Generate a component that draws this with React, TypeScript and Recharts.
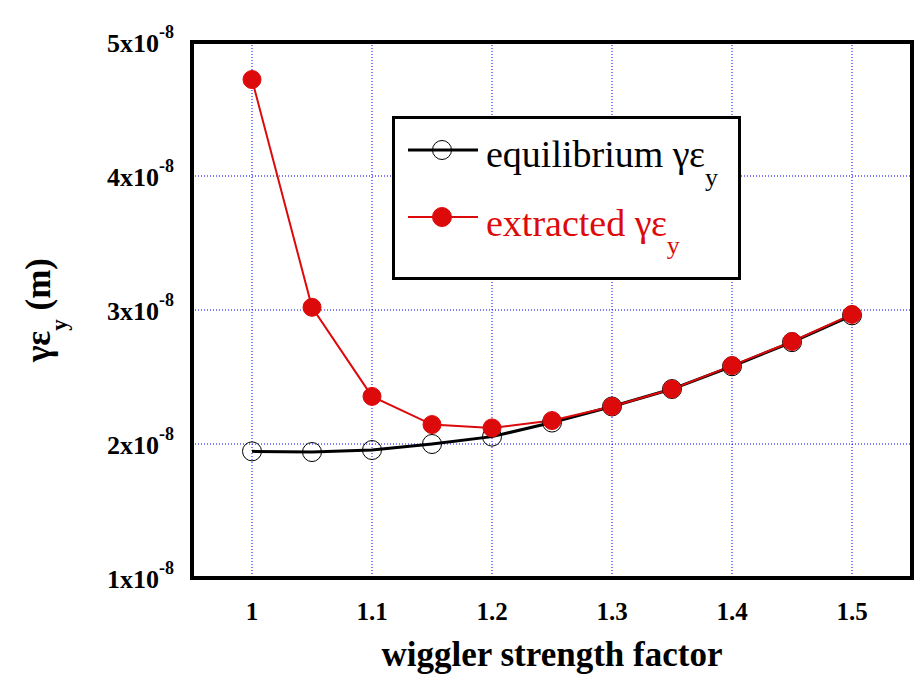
import React from "react";
import {
  LineChart,
  Line,
  XAxis,
  YAxis,
  CartesianGrid,
  ReferenceArea,
  Legend,
} from "recharts";

// wiggler strength factor
const factors = [1, 1.05, 1.1, 1.15, 1.2, 1.25, 1.3, 1.35, 1.4, 1.45, 1.5];
// gamma*eps_y in units of 1e-8 m
const equilibrium = [1.945, 1.94, 1.955, 2.0, 2.055, 2.16, 2.28, 2.41, 2.58, 2.76, 2.96];
const extracted = [4.72, 3.02, 2.355, 2.145, 2.12, 2.175, 2.28, 2.41, 2.585, 2.765, 2.967];

const xTicks = [1, 1.1, 1.2, 1.3, 1.4, 1.5];
const yTicks = [1, 2, 3, 4, 5];

const RED = "#dc0a0a";
const FONT = "'Liberation Serif', 'Times New Roman', Times, serif";

const rows = factors.map((f, i) => ({
  f,
  eq: equilibrium[i],
  ex: extracted[i],
}));

const YTick = ({ x, y, payload }: any) => (
  <text
    x={x}
    y={y + 10}
    textAnchor="end"
    fontFamily={FONT}
    fontWeight="bold"
    fontSize={26}
    fill="#000"
  >
    {payload.value}x10
    <tspan dy={-14} fontSize={18}>
      -8
    </tspan>
  </text>
);

const LegendBox = () => (
  <svg width={352} height={167} style={{ display: "block" }}>
    <rect x={1.5} y={1.5} width={346} height={161} fill="#fff" stroke="#000" strokeWidth={3} />
    <line x1={16} x2={86} y1={34} y2={34} stroke="#000" strokeWidth={3} />
    <circle cx={50} cy={34} r={9.5} fill="none" stroke="#000" strokeWidth={1} />
    <text x={94} y={51} fontFamily={FONT} fontSize={38} fill="#000">
      equilibrium γε
      <tspan dy={19} fontSize={26}>
        y
      </tspan>
    </text>
    <line x1={16} x2={86} y1={101} y2={101} stroke={RED} strokeWidth={2} />
    <circle cx={50} cy={101} r={9.5} fill={RED} stroke={RED} strokeWidth={1} />
    <text x={94} y={120} fontFamily={FONT} fontSize={38} fill={RED}>
      extracted γε
      <tspan dy={18} fontSize={26}>
        y
      </tspan>
    </text>
  </svg>
);

export default function App() {
  return (
    <div style={{ position: "absolute", left: 0, top: 0, width: 922, height: 682, background: "#fff" }}>
      <LineChart
        width={922}
        height={682}
        data={rows}
        margin={{ top: 42, right: 10, bottom: 44, left: 0 }}
      >
        <CartesianGrid
          stroke="#0000ff"
          strokeDasharray="1 2"
          strokeWidth={1}
        />
        <XAxis
          dataKey="f"
          type="number"
          domain={[0.95, 1.55]}
          ticks={xTicks}
          height={60}
          axisLine={false}
          tickLine={false}
          tickSize={0}
          tickMargin={24}
          tick={{ fontSize: 25, fontWeight: "bold", fill: "#000", fontFamily: FONT }}
          label={{
            value: "wiggler strength factor",
            position: "insideBottom",
            offset: -28,
            style: { fontSize: 35, fontWeight: "bold", fill: "#000", fontFamily: FONT },
          }}
        />
        <YAxis
          type="number"
          domain={[1, 5]}
          ticks={yTicks}
          width={192}
          axisLine={false}
          tickLine={false}
          tickSize={0}
          tickMargin={18}
          tick={<YTick />}
          label={({ viewBox }: any) => {
            const cy = viewBox.y + viewBox.height / 2;
            return (
              <text
                x={50}
                y={cy}
                transform={`rotate(-90, 50, ${cy})`}
                textAnchor="middle"
                fontFamily={FONT}
                fontWeight="bold"
                fontSize={35}
                fill="#000"
              >
                γε
                <tspan dy={17} fontSize={23}>
                  y
                </tspan>
                <tspan dy={-17}> (m)</tspan>
              </text>
            );
          }}
        />
        <ReferenceArea
          x1={0.95}
          x2={1.55}
          y1={1}
          y2={5}
          fill="none"
          stroke="#000"
          strokeWidth={4}
          ifOverflow="visible"
        />
        <Legend
          layout="vertical"
          align="center"
          verticalAlign="middle"
          content={<LegendBox />}
          wrapperStyle={{ position: "absolute", left: 392, top: 116, width: 352, height: 167 }}
        />
        <Line
          dataKey="eq"
          stroke="#000"
          strokeWidth={3}
          dot={{ r: 9.5, fill: "none", stroke: "#000", strokeWidth: 1 }}
          isAnimationActive={false}
        />
        <Line
          dataKey="ex"
          stroke={RED}
          strokeWidth={2}
          dot={{ r: 9, fill: RED, stroke: RED, strokeWidth: 1 }}
          isAnimationActive={false}
        />
      </LineChart>
    </div>
  );
}
